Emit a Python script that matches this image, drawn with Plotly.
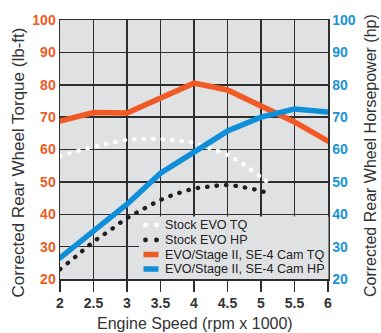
import plotly.graph_objects as go

# Engine speed (rpm x 1000)
rpm_evo = [2.0, 2.5, 3.0, 3.5, 4.0, 4.5, 5.0, 5.5, 6.0]
evo_tq = [68.8, 71.4, 71.3, 75.9, 80.5, 78.4, 73.6, 68.5, 62.6]
evo_hp = [26.5, 34.9, 43.1, 52.7, 59.3, 65.7, 70.0, 72.5, 71.6]

rpm_stock_tq = [2.0, 2.25, 2.5, 2.75, 3.0, 3.25, 3.5, 3.75, 4.0, 4.25, 4.5, 4.75, 5.0, 5.12]
stock_tq = [58.0, 59.5, 60.8, 62.0, 63.0, 63.2, 63.2, 62.7, 62.0, 60.3, 58.3, 55.3, 51.4, 49.6]

rpm_stock_hp = [2.0, 2.25, 2.5, 2.75, 3.0, 3.25, 3.5, 3.75, 4.0, 4.25, 4.5, 4.75, 5.0, 5.07]
stock_hp = [23.0, 27.2, 31.5, 35.1, 38.8, 41.7, 44.4, 46.4, 47.9, 48.6, 49.0, 48.3, 47.2, 46.7]

x_ticks = [2, 2.5, 3, 3.5, 4, 4.5, 5, 5.5, 6]
x_ticktext = ["2", "2.5", "3", "3.5", "4", "4.5", "5", "5.5", "6"]
y_ticks = [20, 30, 40, 50, 60, 70, 80, 90, 100]

legend_names = ["Stock EVO TQ", "Stock EVO HP", "EVO/Stage II, SE-4 Cam TQ", "EVO/Stage II, SE-4 Cam HP"]

ORANGE = "#f15a24"
BLUE = "#0f8fd8"
BG = "#e0e1e3"
GRID = "#2e2e2e"
TXT = "#333333"
FONT = "Liberation Sans, Arial, Helvetica, sans-serif"

W, H = 381, 333
ML, MR, MT, MB = 60, 53, 20, 54
PW, PH = W - ML - MR, H - MT - MB


def px(xp):
    return (xp - ML) / PW


def py(yp):
    return (H - MB - yp) / PH


fig = go.Figure()
fig.add_trace(go.Scatter(x=rpm_stock_tq, y=stock_tq, mode="lines", name=legend_names[0],
                         line=dict(color="white", width=4.3, dash="0.5px,9px", shape="spline")))
fig.add_trace(go.Scatter(x=rpm_stock_hp, y=stock_hp, mode="lines", name=legend_names[1],
                         line=dict(color="#1e1e1e", width=4.3, dash="0.5px,9px", shape="spline"),
                         yaxis="y2"))
fig.add_trace(go.Scatter(x=rpm_evo, y=evo_hp, mode="lines", name=legend_names[3],
                         line=dict(color=BLUE, width=5.5), yaxis="y2"))
fig.add_trace(go.Scatter(x=rpm_evo, y=evo_tq, mode="lines", name=legend_names[2],
                         line=dict(color=ORANGE, width=5.5)))

# manual legend (box, symbols, labels)
shapes = [dict(type="rect", xref="paper", yref="paper", x0=px(139), x1=px(328.5), y0=py(279), y1=py(216.5),
               fillcolor=BG, line=dict(width=0), layer="above")]
rows = [225, 240, 254.5, 269]
for i, (name, yrow) in enumerate(zip(legend_names, rows)):
    if i < 2:
        col = "white" if i == 0 else "#1e1e1e"
        for cx in (145.5, 156.5):
            shapes.append(dict(type="circle", xref="paper", yref="paper",
                               x0=px(cx - 2.4), x1=px(cx + 2.4), y0=py(yrow + 2.4), y1=py(yrow - 2.4),
                               fillcolor=col, line=dict(width=0), layer="above"))
    else:
        col = ORANGE if i == 2 else BLUE
        shapes.append(dict(type="line", xref="paper", yref="paper", x0=px(143.5), x1=px(158.5),
                           y0=py(yrow), y1=py(yrow), line=dict(color=col, width=5.5), layer="above"))

annotations = []
for name, yrow in zip(legend_names, rows):
    annotations.append(dict(text=name, xref="paper", yref="paper", x=px(162.5), y=py(yrow),
                            xanchor="left", yanchor="middle", showarrow=False,
                            font=dict(family=FONT, size=12.6, color="#222")))

annotations += [
    dict(text="Engine Speed (rpm x 1000)", xref="paper", yref="paper", x=px(194.5), y=py(323),
         xanchor="center", yanchor="middle", showarrow=False, font=dict(family=FONT, size=16, color=TXT)),
    dict(text="Corrected Rear Wheel Torque (lb-ft)", xref="paper", yref="paper", x=px(18), y=py(162.5),
         xanchor="center", yanchor="middle", textangle=-90, showarrow=False,
         font=dict(family=FONT, size=17, color=TXT)),
    dict(text="Corrected Rear Wheel Horsepower (hp)", xref="paper", yref="paper", x=px(370.5), y=py(155.5),
         xanchor="center", yanchor="middle", textangle=-90, showarrow=False,
         font=dict(family=FONT, size=16, color=TXT)),
]

fig.update_layout(
    width=W, height=H,
    margin=dict(l=ML, r=MR, t=MT, b=MB, autoexpand=False),
    paper_bgcolor="white",
    plot_bgcolor=BG,
    font=dict(family=FONT, size=14, color="#222"),
    showlegend=False,
    shapes=shapes,
    annotations=annotations,
    xaxis=dict(range=[2, 6], tickvals=x_ticks, ticktext=x_ticktext, automargin=False,
               showgrid=True, gridcolor=GRID, gridwidth=1.5,
               ticks="outside", ticklen=11, tickwidth=1.5, tickcolor=GRID,
               tickfont=dict(family=FONT, size=14, color=TXT, weight="bold"),
               showline=True, linecolor=GRID, linewidth=1.5, mirror=True,
               zeroline=False),
    yaxis=dict(range=[20, 100], tickvals=y_ticks, automargin=False,
               showgrid=True, gridcolor=GRID, gridwidth=1.5,
               ticks="", tickfont=dict(family=FONT, size=14, color=ORANGE, weight="bold"),
               showline=True, linecolor=GRID, linewidth=1.5, zeroline=False),
    yaxis2=dict(range=[20, 100], tickvals=y_ticks, overlaying="y", side="right", automargin=False,
                showgrid=False, ticks="",
                tickfont=dict(family=FONT, size=14, color="#1a93d6", weight="bold"),
                showline=True, linecolor=GRID, linewidth=1.5, zeroline=False),
)

post = """
var s=document.createElement('style');
s.innerHTML='html,body{margin:0;padding:0;overflow:hidden;} path.js-line{stroke-linecap:round;}';
document.head.appendChild(s);
"""
fig.write_html("out.html", post_script=post, config={"displayModeBar": False, "staticPlot": True})
